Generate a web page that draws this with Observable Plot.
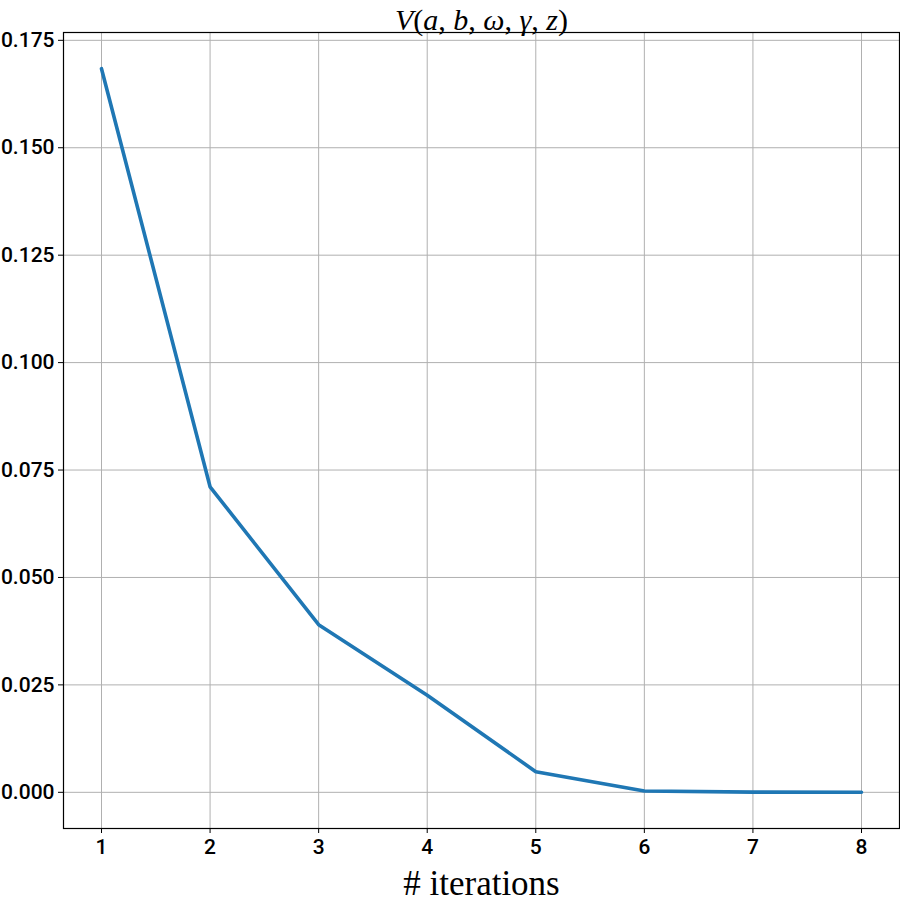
<!DOCTYPE html>
<html>
<head>
<meta charset="utf-8">
<script src="https://cdn.jsdelivr.net/npm/d3@7"></script>
<script src="https://cdn.jsdelivr.net/npm/@observablehq/plot@0.6"></script>
<style>
  html, body { margin: 0; padding: 0; background: #fff; }
  #chart svg { display: block; }
</style>
</head>
<body>
<div id="chart"></div>
<script>
const iterations = [1, 2, 3, 4, 5, 6, 7, 8];
const values = [0.1684, 0.0711, 0.0390, 0.0226, 0.0048, 0.0003, 0.00005, 0.0];
const xTicks = [1, 2, 3, 4, 5, 6, 7, 8];
const yTicks = [0, 0.025, 0.05, 0.075, 0.1, 0.125, 0.15, 0.175];
const titleText = "V(a, b, ω, γ, z)";
const xLabel = "# iterations";

const data = iterations.map((x, i) => ({x, y: values[i]}));

const tickFont = "Roboto, 'Liberation Sans', sans-serif";
const serif = "'Liberation Serif', 'DejaVu Serif', serif";

const chart = Plot.plot({
  width: 900,
  height: 901,
  marginLeft: 63,
  marginRight: 1,
  marginTop: 32,
  marginBottom: 73,
  style: {background: "#fff", color: "#000"},
  x: {domain: [0.65, 8.35], ticks: xTicks},
  y: {domain: [-0.00842, 0.17682], ticks: yTicks},
  marks: [
    Plot.gridX(xTicks, {stroke: "#b0b0b0", strokeOpacity: 1, strokeWidth: 1}),
    Plot.gridY(yTicks, {stroke: "#b0b0b0", strokeOpacity: 1, strokeWidth: 1}),
    Plot.line(data, {x: "x", y: "y", stroke: "#1f77b4", strokeWidth: 3.6, strokeLinejoin: "miter"}),
    Plot.frame({stroke: "#000", strokeWidth: 1.2}),
    Plot.axisY(yTicks, {tickSize: 5, tickPadding: 4, tickFormat: d3.format(".3f"), fontSize: 21, fontWeight: 500, fontFamily: tickFont, fill: "#000", label: null}),
    Plot.axisX(xTicks, {tickSize: 5, tickPadding: 6, tickFormat: d3.format("d"), fontSize: 21, fontWeight: 500, fontFamily: tickFont, fill: "#000", label: null}),
    Plot.text([titleText], {frameAnchor: "top", lineAnchor: "bottom", dy: -3, fontSize: 30, fontFamily: serif, fill: "#000", className: "title-text"}),
    Plot.text([xLabel], {frameAnchor: "bottom", lineAnchor: "bottom", dy: 66, fontSize: 35, fontFamily: serif, fill: "#000"})
  ]
});

document.getElementById("chart").appendChild(chart);

// Render title with italic variables and upright punctuation
const t = d3.select(chart).selectAll("g.title-text text");
t.each(function() {
  const el = d3.select(this);
  const txt = el.text();
  el.text("");
  for (const ch of txt) {
    const upright = /[(),\s]/.test(ch);
    el.append("tspan").attr("font-style", upright ? "normal" : "italic").text(ch);
  }
});
</script>
</body>
</html>
